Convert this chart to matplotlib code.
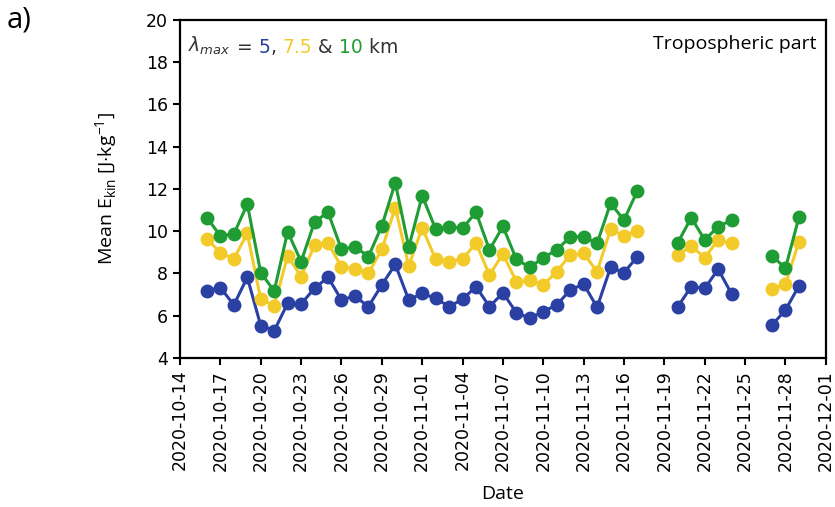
import numpy as np
import pandas as pd
import matplotlib
matplotlib.use('Agg')
import matplotlib.pyplot as plt
import matplotlib.dates as mdates

matplotlib.rcParams['mathtext.fontset'] = 'custom'
matplotlib.rcParams['mathtext.rm'] = 'Open Sans'
matplotlib.rcParams['mathtext.it'] = 'DejaVu Sans:italic'

nan = np.nan

# daily dates, 2020-10-16 .. 2020-11-29 (missing days are NaN)
dates = pd.date_range('2020-10-16', '2020-11-29', freq='D')

# lambda_max = 5 km
ekin_5 = [7.17, 7.33, 6.51, 7.82, 5.53, 5.29, 6.59, 6.56, 7.30, 7.82,
          6.75, 6.93, 6.43, 7.46, 8.43, 6.75, 7.06, 6.82, 6.43, 6.78,
          7.38, 6.43, 7.08, 6.15, 5.88, 6.20, 6.51, 7.22, 7.50, 6.40,
          8.29, 8.04, 8.80, nan, nan, 6.43, 7.38, 7.30, 8.20, 7.03,
          nan, nan, 5.56, 6.27, 7.41]
# lambda_max = 7.5 km
ekin_75 = [9.63, 8.99, 8.69, 9.90, 6.78, 6.48, 8.83, 7.85, 9.35, 9.43,
           8.32, 8.21, 8.01, 9.14, 11.12, 8.35, 10.17, 8.67, 8.56, 8.69,
           9.43, 7.93, 8.93, 7.61, 7.69, 7.46, 8.09, 8.88, 8.95, 8.09,
           10.09, 9.78, 10.03, nan, nan, 8.88, 9.30, 8.75, 9.59, 9.43,
           nan, nan, 7.27, 7.49, 9.51]
# lambda_max = 10 km
ekin_10 = [10.64, 9.78, 9.87, 11.28, 8.04, 7.17, 9.98, 8.56, 10.44, 10.90,
           9.14, 9.27, 8.80, 10.25, 12.30, 9.24, 11.68, 10.10, 10.22, 10.14,
           10.90, 9.12, 10.23, 8.67, 8.29, 8.75, 9.11, 9.74, 9.74, 9.43,
           11.32, 10.53, 11.92, nan, nan, 9.46, 10.64, 9.59, 10.22, 10.53,
           nan, nan, 8.84, 8.25, 10.66]

blue = '#2a40a3'
yellow = '#f2cb2a'
green = '#1f9c33'
dark = '#333333'

fig = plt.figure(figsize=(8.35, 5.07), dpi=100)
ax = fig.add_axes([0.2156, 0.2939, 0.7734, 0.6667])

for vals, c in [(ekin_5, blue), (ekin_75, yellow), (ekin_10, green)]:
    ax.plot(dates, vals, '-o', color=c, lw=2.2, ms=9)

ax.set_xlim(pd.Timestamp('2020-10-14'), pd.Timestamp('2020-12-01'))
ax.set_ylim(4, 20)
ax.set_yticks(range(4, 21, 2))
ticks = pd.date_range('2020-10-14', '2020-12-01', freq='3D')
ax.set_xticks(ticks)
ax.xaxis.set_major_formatter(mdates.DateFormatter('%Y-%m-%d'))
ax.tick_params(axis='both', labelsize=12.5, width=1.5, length=5)
plt.setp(ax.get_xticklabels(), rotation=90)
for s in ax.spines.values():
    s.set_linewidth(1.6)

ax.set_xlabel('Date', fontsize=14, family='Open Sans', labelpad=10)
ax.set_ylabel(r'Mean E$_{\mathrm{kin}}$ [J$\cdot$kg$^{\mathrm{-1}}$]',
              fontsize=14, family='Open Sans', labelpad=19)

ax.text(0.985, 0.955, 'Tropospheric part', transform=ax.transAxes,
        ha='right', va='top', fontsize=14, family='Open Sans')

# legend-like label with coloured values, pieces chained one after another
t = ax.text(0.013, 0.955, r'$\lambda_{max}$', transform=ax.transAxes,
            ha='left', va='top', fontsize=13.5, color=dark)
pieces = [(' = ', dark), ('5', blue), (', ', dark), ('7.5', yellow),
          (' & ', dark), ('10', green), (' km', dark)]
for piece, c in pieces:
    t = ax.annotate(piece, xy=(1, 0), xycoords=t, ha='left', va='bottom',
                    fontsize=13.5, color=c)

fig.text(0.008, 0.99, 'a)', ha='left', va='top', fontsize=21,
         family='Open Sans')

fig.savefig('out.png', dpi=100)
